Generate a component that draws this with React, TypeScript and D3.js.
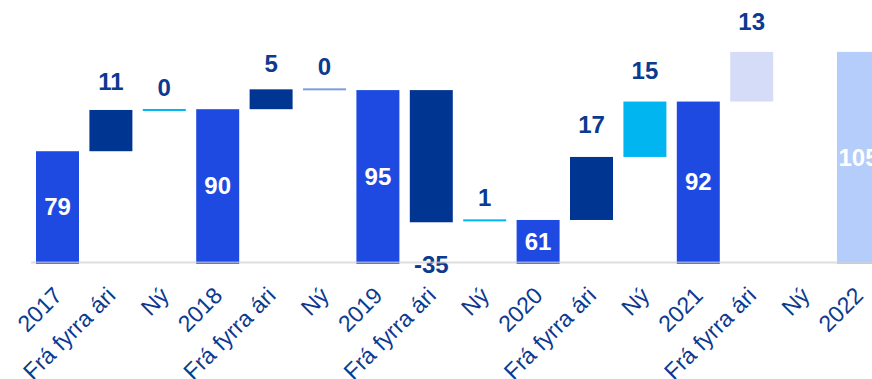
import React from 'react';
import * as d3 from 'd3';

const categories = [
  '2017', 'Frá fyrra ári', 'Ný',
  '2018', 'Frá fyrra ári', 'Ný',
  '2019', 'Frá fyrra ári', 'Ný',
  '2020', 'Frá fyrra ári', 'Ný',
  '2021', 'Frá fyrra ári', 'Ný',
  '2022',
];
// totals for year columns, changes for the others (null = no bar)
const values: (number | null)[] = [
  79, 10.8, 0,
  90, 5.2, 0,
  95, -34.6, 0.5,
  61, 16.5, 14.5,
  92, 13, null,
  105,
];
// which columns are projections (drawn lighter)
const projected = [
  false, false, false,
  false, false, false,
  false, false, false,
  false, false, false,
  false, true, true,
  true,
];

const W = 872;
const H = 379;
const BASE_Y = 262;
const PX_PER_UNIT = 3.82;
const Y_MIN = 50;
const Y_MAX = 110;

const NAVY = '#003591';
const BLUE = '#1f4ae1';
const CYAN = '#00b5f0';
const TEXT = '#0b3a8f';

const isTotal = (c: string) => /^\d{4}$/.test(c);

export default function App() {
  const x = d3
    .scaleBand<number>()
    .domain(categories.map((_, i) => i))
    .range([30.8, 30.8 + 16 * 53.4])
    .paddingInner(0.195)
    .paddingOuter(0.0975);
  const y = d3
    .scaleLinear()
    .domain([Y_MIN, Y_MAX])
    .range([BASE_Y, BASE_Y - (Y_MAX - Y_MIN) * PX_PER_UNIT]);

  let running = 0;
  let newIdx = 0;
  const bars = categories.map((c, i) => {
    const v = values[i];
    const total = isTotal(c);
    let lo = 0, hi = 0;
    if (v === null) return null;
    if (total) {
      running = v;
      lo = Y_MIN;
      hi = v;
    } else {
      const start = running;
      running = start + v;
      lo = Math.min(start, running);
      hi = Math.max(start, running);
    }
    let fill: string;
    if (total) fill = projected[i] ? '#b5cdfb' : BLUE;
    else if (c === 'Ný') {
      fill = newIdx === 1 ? '#7d9de0' : CYAN;
      newIdx++;
    } else fill = projected[i] ? '#d4dcf8' : NAVY;
    return { i, c, v, total, lo, hi, fill };
  });

  return (
    <svg
      width={W}
      height={H}
      style={{ position: 'absolute', left: 0, top: 0, fontFamily: 'Liberation Sans, Arial, sans-serif' }}
    >
      <rect width={W} height={H} fill="#fff" />
      {bars.map((b) => {
        if (!b) return null;
        const x0 = x(b.i)!;
        const bw = x.bandwidth();
        const yTop = y(b.hi);
        const yBot = b.total ? BASE_Y + 2 : y(b.lo);
        const h = Math.max(2, yBot - yTop);
        const cx = x0 + bw / 2;
        const barH = yBot - yTop;
        const gap = 14 + 0.15 * barH;
        const label = String(Math.round(b.v));
        let labelEl;
        if (b.total) {
          labelEl = (
            <text x={cx} y={(yTop + BASE_Y) / 2} dy="0.36em" textAnchor="middle" fill="#fff" fontWeight="bold" fontSize={24}>
              {label}
            </text>
          );
        } else if (b.v >= 0) {
          labelEl = (
            <text x={cx} y={yTop - gap} textAnchor="middle" fill={TEXT} fontWeight="bold" fontSize={24}>
              {label}
            </text>
          );
        } else {
          labelEl = (
            <text x={cx} y={yBot + gap + 17} textAnchor="middle" fill={TEXT} fontWeight="bold" fontSize={24}>
              {label}
            </text>
          );
        }
        return (
          <g key={b.i}>
            <rect x={x0} y={barH < 2 ? yTop - 1 : yTop} width={bw} height={h} fill={b.fill} />
            {labelEl}
          </g>
        );
      })}
      <line x1={31} x2={W} y1={BASE_Y + 0.5} y2={BASE_Y + 0.5} stroke="#d0d0d0" strokeOpacity={0.7} strokeWidth={2} />
      {categories.map((c, i) => {
        const cx = x(i)! + x.bandwidth() / 2;
        return (
          <text
            key={'t' + i}
            transform={`translate(${cx + 6},${BASE_Y + 35}) rotate(-45)`}
            textAnchor="end"
            fill={TEXT}
            fontSize={23}
          >
            {c}
          </text>
        );
      })}
    </svg>
  );
}
